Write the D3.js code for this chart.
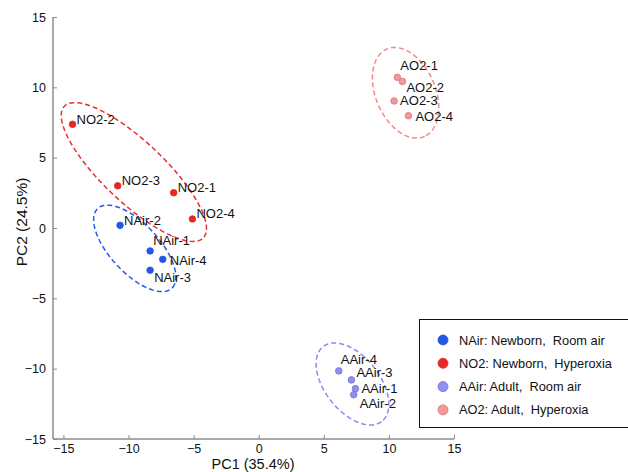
<!DOCTYPE html>
<html>
<head>
<meta charset="utf-8">
<script src="https://cdn.jsdelivr.net/npm/d3@7"></script>
<style>
  body { margin: 0; background: #fff; }
  svg { display: block; font-family: "Liberation Sans", Arial, sans-serif; }
</style>
</head>
<body>
<div id="chart"></div>
<script>
// groups and legend text
const groups = ["NAir", "NO2", "AAir", "AO2"];
const legendLabels = [
  "NAir: Newborn,  Room air",
  "NO2: Newborn,  Hyperoxia",
  "AAir: Adult,  Room air",
  "AO2: Adult,  Hyperoxia"
];

// samples
const sampleNames = ["NAir-1", "NAir-2", "NAir-3", "NAir-4",
                     "NO2-1", "NO2-2", "NO2-3", "NO2-4",
                     "AAir-1", "AAir-2", "AAir-3", "AAir-4",
                     "AO2-1", "AO2-2", "AO2-3", "AO2-4"];
const sampleGroup = ["NAir", "NAir", "NAir", "NAir",
                     "NO2", "NO2", "NO2", "NO2",
                     "AAir", "AAir", "AAir", "AAir",
                     "AO2", "AO2", "AO2", "AO2"];
const pc1 = [-8.34, -10.65, -8.34, -7.37,
             -6.53, -14.3, -10.83, -5.09,
             7.43, 7.3, 7.12, 6.15,
             10.65, 11.04, 10.4, 11.5];
const pc2 = [-1.63, 0.19, -3.0, -2.23,
             2.51, 7.37, 3.0, 0.64,
             -11.42, -11.85, -10.8, -10.16,
             10.71, 10.42, 9.03, 7.98];

// group ellipses: centre, semi-axes and tilt (degrees), in data units
const ellipseCx = [-9.52, -9.59, 7.20, 11.28];
const ellipseCy = [-1.45, 3.98, -11.09, 9.61];
const ellipseRx = [4.02, 7.10, 3.49, 3.43];
const ellipseRy = [1.81, 2.25, 2.03, 2.26];
const ellipseAngle = [-43.8, -40.7, -47.5, -62.8];

const xTicks = [-15, -10, -5, 0, 5, 10, 15];
const yTicks = [-15, -10, -5, 0, 5, 10, 15];

// styling
const fillColor = { NAir: "#2457e6", NO2: "#e42727", AAir: "#9090f0", AO2: "#f29898" };
const edgeColor = { NAir: "#2457e6", NO2: "#e42727", AAir: "#7474cc", AO2: "#d87878" };
const ringColor = { NAir: "#2a5ae8", NO2: "#e83030", AAir: "#8a8af0", AO2: "#f08a8a" };

// where each label sits relative to its point (px)
const labelOffset = {
  "NAir-1": [3, -10], "NAir-2": [4, -5], "NAir-3": [4, 7], "NAir-4": [7, 1],
  "NO2-1": [4, -5], "NO2-2": [4, -5], "NO2-3": [4, -5], "NO2-4": [4, -5],
  "AAir-1": [6, 0], "AAir-2": [6, 9], "AAir-3": [5, -7], "AAir-4": [2, -11],
  "AO2-1": [3, -12], "AO2-2": [4, 6], "AO2-3": [6, 0], "AO2-4": [7, 1]
};

const width = 628, height = 472;
const svg = d3.select("#chart").append("svg")
  .attr("width", width)
  .attr("height", height);

const x = d3.scaleLinear().domain([-15.8, 15]).range([53, 454]);
const y = d3.scaleLinear().domain([-15, 15]).range([439, 17]);

const axisColor = "#8c8c8c";

// x axis
const xAxis = svg.append("g")
  .attr("transform", `translate(0,${y(-15)})`)
  .call(d3.axisBottom(x).tickValues(xTicks).tickSize(-4).tickPadding(8).tickFormat(d3.format("d")));
xAxis.select(".domain").attr("d", `M${x.range()[0]},0H${x.range()[1]}`);

// y axis
const yAxis = svg.append("g")
  .attr("transform", `translate(${x(-15.8)},0)`)
  .call(d3.axisLeft(y).tickValues(yTicks).tickSize(-4).tickPadding(7).tickFormat(d3.format("d")));
yAxis.select(".domain").attr("d", `M0,${y.range()[0]}V${y.range()[1]}`);

svg.selectAll(".domain").attr("stroke", axisColor).attr("stroke-width", 1.5);
svg.selectAll(".tick line").attr("stroke", axisColor);
svg.selectAll(".tick text")
  .attr("fill", "#111")
  .style("font-size", "12.5px")
  .style("font-family", "Liberation Sans, Arial, sans-serif");
xAxis.selectAll(".tick text").attr("dy", "0.45em");

// axis titles
svg.append("text")
  .attr("x", 253)
  .attr("y", 469)
  .attr("text-anchor", "middle")
  .style("font-size", "14.5px")
  .attr("fill", "#111")
  .text("PC1 (35.4%)");

svg.append("text")
  .attr("transform", "translate(21,222) rotate(-90)")
  .attr("text-anchor", "middle")
  .attr("dominant-baseline", "central")
  .style("font-size", "15.5px")
  .attr("fill", "#111")
  .text("PC2 (24.5%)");

// ellipses drawn through the scales
const line = d3.line().x(d => x(d[0])).y(d => y(d[1]));
groups.forEach(function(g, i) {
  const a = ellipseAngle[i] * Math.PI / 180;
  const pts = d3.range(0, 361, 3).map(function(deg) {
    const t = deg * Math.PI / 180;
    const u = ellipseRx[i] * Math.cos(t);
    const v = ellipseRy[i] * Math.sin(t);
    return [ellipseCx[i] + u * Math.cos(a) - v * Math.sin(a),
            ellipseCy[i] + u * Math.sin(a) + v * Math.cos(a)];
  });
  svg.append("path")
    .datum(pts)
    .attr("d", line)
    .attr("fill", "none")
    .attr("stroke", ringColor[g])
    .attr("stroke-width", 1.5)
    .attr("stroke-dasharray", "5,3");
});

// points
const samples = sampleNames.map((n, i) => ({ name: n, group: sampleGroup[i], x: pc1[i], y: pc2[i] }));

svg.selectAll(".pt")
  .data(samples)
  .enter().append("circle")
  .attr("class", "pt")
  .attr("cx", d => x(d.x))
  .attr("cy", d => y(d.y))
  .attr("r", 3.3)
  .attr("fill", d => fillColor[d.group])
  .attr("stroke", d => edgeColor[d.group])
  .attr("stroke-width", 0.8);

svg.selectAll(".lbl")
  .data(samples)
  .enter().append("text")
  .attr("class", "lbl")
  .attr("x", d => x(d.x) + labelOffset[d.name][0])
  .attr("y", d => y(d.y) + labelOffset[d.name][1])
  .attr("dominant-baseline", "central")
  .style("font-size", "13px")
  .attr("fill", "#111")
  .text(d => d.name);

// legend
const legend = svg.append("g");
legend.append("rect")
  .attr("x", 419.5)
  .attr("y", 319.5)
  .attr("width", 220)
  .attr("height", 108)
  .attr("fill", "#fff")
  .attr("stroke", "#111")
  .attr("stroke-width", 1);

groups.forEach(function(g, i) {
  const cy = 340 + i * 23.3;
  legend.append("circle")
    .attr("cx", 443)
    .attr("cy", cy)
    .attr("r", 5)
    .attr("fill", fillColor[g])
    .attr("stroke", edgeColor[g])
    .attr("stroke-width", 0.8);
  legend.append("text")
    .attr("x", 459)
    .attr("y", cy)
    .attr("dominant-baseline", "central")
    .style("font-size", "12.8px")
    .attr("fill", "#111")
    .style("white-space", "pre")
    .text(legendLabels[i]);
});
</script>
</body>
</html>
